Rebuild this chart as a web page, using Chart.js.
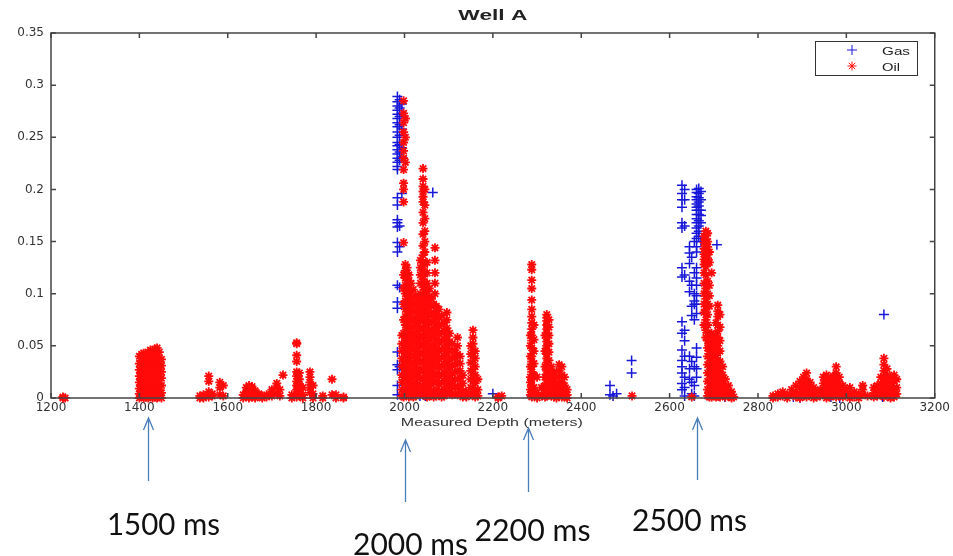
<!DOCTYPE html>
<html><head><meta charset="utf-8">
<script src="https://cdn.jsdelivr.net/npm/chart.js@4.4.1/dist/chart.umd.min.js"></script>
<style>html,body{margin:0;padding:0;background:#fff;overflow:hidden}#wrap{width:953px;height:556px}</style>
</head><body><div id="wrap"><canvas id="c" width="953" height="556"></canvas></div>
<script>
const chartTitle = 'Well A';
const xAxisTitle = 'Measured Depth (meters)';
const seriesNames = ['Gas', 'Oil'];
const xTicks = [1200, 1400, 1600, 1800, 2000, 2200, 2400, 2600, 2800, 3000, 3200];
const xTickLabels = ['1200', '1400', '1600', '1800', '2000', '2200', '2400', '2600', '2800', '3000', '3200'];
const yTicks = [0, 0.05, 0.1, 0.15, 0.2, 0.25, 0.3, 0.35];
const yTickLabels = ['0', '0.05', '0.1', '0.15', '0.2', '0.25', '0.3', '0.35'];
const annotationLabels = ['1500 ms', '2000 ms', '2200 ms', '2500 ms'];
const annotationDepths = [1419, 2001, 2279, 2661];

// Gas: [depth, [values at that depth]]
const gasColumns = [
  [1984,[0.289,0.284,0.28,0.276,0.272,0.268,0.264,0.26,0.255,0.25,0.245,0.242,0.238,0.234,0.23,0.226,0.222,0.219,0.192,0.185,0.171,0.168,0.164,0.149,0.14,0.108,0.092,0.086,0.044,0.032,0.027,0.012,0.003]],
  [1989,[0.286,0.278,0.27,0.262,0.252,0.243,0.236,0.228,0.165,0.145,0.106,0.03]],
  [1994,[0.282,0.273,0.258,0.24,0.231,0.196]],
  [2035,[0.002]],[2042,[0.003]],[2048,[0.002]],[2055,[0.004]],[2060,[0.003]],
  [2064,[0.197]],
  [2200,[0.004]],
  [2288,[0.002]],
  [2465,[0.012,0.003]],[2472,[0.002]],[2480,[0.004]],
  [2514,[0.036,0.024]],
  [2628,[0.204,0.196,0.19,0.183,0.168,0.163,0.125,0.116,0.073,0.062,0.046,0.036,0.03,0.024,0.014,0.008]],
  [2634,[0.2,0.19,0.165,0.118,0.065,0.055,0.04,0.02,0.01,0.002]],
  [2645,[0.145,0.139,0.129,0.112,0.102,0.04,0.028,0.018]],
  [2650,[0.135,0.108,0.088,0.079,0.035,0.015,0.004]],
  [2656,[0.15,0.12,0.1,0.093,0.09,0.075,0.03,0.012,0.002]],
  [2661,[0.2,0.197,0.193,0.19,0.186,0.183,0.18,0.176,0.172,0.168,0.163,0.158,0.153,0.145,0.14,0.125,0.115,0.108,0.098,0.09,0.081,0.048,0.039,0.028,0.02]],
  [2666,[0.201,0.196,0.192,0.188,0.184,0.18,0.176,0.17,0.165,0.16,0.155]],
  [2671,[0.198,0.19,0.18,0.175,0.168,0.15]],
  [2707,[0.147]],
  [2712,[0.002]],[2725,[0.001]],[2735,[0.002]],
  [2880,[0.001]],[2895,[0]],[2965,[0.001]],[2985,[0]],
  [3082,[0.001]],[3085,[0.08]],[3095,[0.002]]
];

// Oil: [depth, [values at that depth]]
const oilShallow = [
  [1227,[0,0.001]],[1232,[0]],
  [1400,[0,0.004,0.009,0.015,0.021,0.027,0.033,0.04]],
  [1405,[0.002,0.006,0.012,0.018,0.024,0.029,0.036,0.042]],
  [1410,[0,0.003,0.008,0.013,0.019,0.025,0.031,0.038,0.043]],
  [1415,[0.001,0.005,0.011,0.016,0.022,0.028,0.034,0.041]],
  [1420,[0,0.004,0.01,0.014,0.02,0.026,0.032,0.037,0.044]],
  [1425,[0.002,0.007,0.012,0.017,0.023,0.03,0.035,0.041,0.046]],
  [1430,[0,0.005,0.009,0.015,0.021,0.027,0.033,0.039,0.045]],
  [1435,[0.001,0.006,0.011,0.018,0.024,0.03,0.036,0.042,0.047]],
  [1440,[0,0.004,0.01,0.016,0.022,0.028,0.034,0.04,0.048]],
  [1445,[0.002,0.008,0.014,0.02,0.026,0.032,0.038,0.044]],
  [1450,[0,0.005,0.012,0.019,0.025,0.031,0.037]],
  [1537,[0,0.002]],[1545,[0,0.003]],
  [1557,[0.021,0.016,0.006,0.001]],[1565,[0.002,0.004]],
  [1582,[0.015,0.01,0.003]],[1590,[0.012,0.002]],
  [1635,[0,0.003]],[1642,[0.002,0.006,0.01]],[1648,[0,0.004,0.008,0.012]],
  [1655,[0.001,0.005,0.009,0.011]],[1662,[0,0.003,0.007]],[1670,[0.002,0.004]],
  [1678,[0,0.002]],[1688,[0.001,0.003]],
  [1700,[0.002,0.006,0.008]],[1711,[0.014,0.01,0.004]],[1718,[0.008,0.002]],[1725,[0.022]],
  [1745,[0,0.003]],
  [1756,[0.052,0.053,0.041,0.035,0.025,0.021,0.016,0.012,0.008,0.004,0.001]],
  [1762,[0.024,0.018,0.013,0.006,0.002]],[1770,[0.01,0.003,0]],
  [1786,[0.025,0.02,0.015,0.01,0.005]],[1793,[0.012,0.004,0]],
  [1815,[0.002,0]],[1836,[0.018,0.003]],[1845,[0.003,0]],[1862,[0.001,0]]
];
const oilMain = [
  [1994,[0.06,0.052,0.045,0.038,0.03,0.022,0.015,0.008,0.002]],
  [1998,[0.285,0.273,0.264,0.255,0.245,0.237,0.23,0.219,0.206,0.2,0.188,0.149,0.118,0.105,0.09,0.075,0.062,0.048,0.035,0.02,0.006,0.001]],
  [2002,[0.268,0.25,0.226,0.128,0.122,0.115,0.108,0.1,0.093,0.085,0.078,0.07,0.063,0.055,0.047,0.04,0.032,0.025,0.017,0.01,0.003]],
  [2006,[0.125,0.12,0.114,0.107,0.1,0.094,0.087,0.08,0.073,0.066,0.059,0.052,0.045,0.038,0.031,0.024,0.017,0.01,0.004]],
  [2010,[0.118,0.112,0.105,0.098,0.091,0.084,0.077,0.07,0.063,0.056,0.049,0.042,0.035,0.028,0.021,0.014,0.007,0.001]],
  [2015,[0.11,0.103,0.096,0.089,0.082,0.075,0.068,0.061,0.054,0.047,0.04,0.033,0.026,0.019,0.012,0.005]],
  [2020,[0.104,0.097,0.09,0.083,0.076,0.069,0.062,0.055,0.048,0.041,0.034,0.027,0.02,0.013,0.006,0.001]],
  [2025,[0.098,0.09,0.083,0.075,0.068,0.06,0.053,0.045,0.038,0.03,0.023,0.015,0.008,0.002]],
  [2030,[0.095,0.087,0.079,0.072,0.064,0.056,0.049,0.041,0.034,0.026,0.019,0.011,0.004]],
  [2036,[0.132,0.125,0.118,0.11,0.1,0.092,0.084,0.076,0.068,0.06,0.052,0.044,0.036,0.028,0.02,0.012,0.005]],
  [2042,[0.22,0.21,0.203,0.198,0.193,0.188,0.178,0.168,0.157,0.146,0.137,0.13,0.122,0.114,0.106,0.098,0.09,0.082,0.074,0.066,0.058,0.05,0.042,0.034,0.026,0.018,0.01,0.003]],
  [2046,[0.2,0.185,0.172,0.16,0.15,0.14,0.128,0.119,0.11,0.101,0.093,0.085,0.077,0.069,0.061,0.053,0.045,0.037,0.029,0.021,0.013,0.006]],
  [2051,[0.13,0.12,0.11,0.102,0.094,0.086,0.078,0.07,0.062,0.054,0.046,0.038,0.03,0.022,0.014,0.007,0.001]],
  [2056,[0.105,0.097,0.089,0.081,0.073,0.065,0.057,0.049,0.041,0.033,0.025,0.017,0.009,0.002]],
  [2061,[0.095,0.088,0.08,0.073,0.065,0.058,0.05,0.043,0.035,0.028,0.02,0.013,0.005]],
  [2066,[0.09,0.082,0.075,0.067,0.06,0.052,0.045,0.037,0.03,0.022,0.015,0.007,0.001]],
  [2069,[0.144,0.132,0.12,0.11,0.1]],
  [2072,[0.088,0.08,0.072,0.064,0.056,0.048,0.04,0.032,0.024,0.016,0.008,0.002]],
  [2078,[0.085,0.077,0.069,0.061,0.053,0.045,0.037,0.029,0.021,0.013,0.005]],
  [2084,[0.079,0.071,0.063,0.055,0.047,0.039,0.031,0.023,0.015,0.007,0.001]],
  [2090,[0.072,0.064,0.056,0.048,0.04,0.032,0.024,0.016,0.008,0.002]],
  [2096,[0.082,0.075,0.067,0.059,0.051,0.043,0.035,0.027,0.019,0.011,0.004]],
  [2102,[0.062,0.054,0.046,0.038,0.03,0.022,0.014,0.006]],
  [2108,[0.052,0.045,0.038,0.031,0.024,0.017,0.01,0.003]],
  [2114,[0.046,0.039,0.032,0.025,0.018,0.011,0.004]],
  [2120,[0.058,0.05,0.042,0.034,0.026,0.018,0.01,0.003]],
  [2126,[0.04,0.033,0.026,0.019,0.012,0.005]],
  [2132,[0.022,0.014,0.007,0.001]],
  [2140,[0.006,0.001]],
  [2150,[0.05,0.042,0.034,0.026,0.018,0.01,0.003]],
  [2155,[0.065,0.058,0.052,0.046,0.04,0.034,0.028,0.022,0.016,0.01,0.004]],
  [2160,[0.045,0.038,0.03,0.022,0.014,0.006,0.001]],
  [2166,[0.018,0.008,0.002]],
  [2212,[0.001,0]],[2220,[0.002]]
];
const oil2300 = [
  [2285,[0.06,0.05,0.04,0.03,0.02,0.015,0.008,0.003]],
  [2288,[0.128,0.123,0.113,0.105,0.094,0.085,0.078,0.072,0.066,0.06,0.055,0.048,0.04,0.035,0.03,0.025,0.018,0.012,0.006,0.001]],
  [2293,[0.07,0.056,0.045,0.033,0.022,0.01,0.004]],
  [2300,[0.02,0.005,0]],[2310,[0.01,0.002]],
  [2318,[0.06,0.045,0.03,0.02,0.012,0.005,0.001]],
  [2322,[0.08,0.077,0.074,0.07,0.066,0.062,0.058,0.054,0.05,0.046,0.042,0.038,0.034,0.03,0.026,0.022,0.018,0.014,0.01,0.006,0.002]],
  [2327,[0.075,0.068,0.06,0.052,0.044,0.036,0.028,0.02,0.012,0.004]],
  [2332,[0.03,0.022,0.015,0.008,0.002]],
  [2338,[0.025,0.018,0.012,0.006,0.001]],
  [2344,[0.02,0.014,0.009,0.004,0]],
  [2350,[0.032,0.026,0.02,0.013,0.007,0.002]],
  [2356,[0.03,0.022,0.015,0.01,0.005,0.001]],
  [2362,[0.02,0.012,0.006,0.001]],
  [2368,[0.008,0.003,0]],
  [2515,[0.002]]
];
const oil2700 = [
  [2650,[0.001]],
  [2678,[0.155,0.149,0.143,0.138,0.133,0.128,0.12,0.11,0.1,0.09,0.082,0.07]],
  [2682,[0.16,0.157,0.152,0.147,0.142,0.137,0.132,0.126,0.118,0.105,0.095,0.085,0.075,0.065,0.058]],
  [2686,[0.158,0.15,0.145,0.139,0.134,0.129,0.112,0.1,0.09,0.08,0.07,0.062,0.055,0.048,0.04,0.032,0.024,0.016,0.008,0.002]],
  [2690,[0.14,0.13,0.108,0.098,0.088,0.06,0.052,0.045,0.038,0.03,0.022,0.014,0.006,0.001]],
  [2695,[0.12,0.062,0.055,0.048,0.041,0.034,0.027,0.02,0.013,0.006,0.001]],
  [2700,[0.058,0.05,0.044,0.037,0.03,0.023,0.016,0.009,0.003]],
  [2705,[0.072,0.06,0.052,0.045,0.038,0.031,0.024,0.017,0.01,0.004,0.001]],
  [2709,[0.089,0.083,0.078,0.07,0.064,0.058,0.05,0.043,0.036,0.029,0.022,0.015,0.008,0.002]],
  [2714,[0.08,0.068,0.055,0.045,0.035,0.025,0.018,0.011,0.005,0.001]],
  [2720,[0.03,0.022,0.014,0.008,0.003]],
  [2726,[0.018,0.01,0.005,0.001]],
  [2733,[0.012,0.006,0.002]],
  [2740,[0.006,0.002,0]],
  [2745,[0.001]]
];
const oilDeep = [
  [2834,[0.002,0]],[2845,[0.004,0.001]],[2856,[0.006,0.002]],[2866,[0.003,0]],
  [2876,[0.008,0.003]],[2886,[0.012,0.006,0.001]],[2895,[0.016,0.01,0.004,0]],
  [2903,[0.02,0.013,0.007,0.002]],[2910,[0.024,0.018,0.012,0.006,0.001]],
  [2918,[0.015,0.009,0.003]],[2926,[0.01,0.004,0]],[2933,[0.005,0.001]],
  [2941,[0.008,0.002]],[2948,[0.02,0.014,0.008,0.003]],[2955,[0.022,0.016,0.01,0.004,0]],
  [2962,[0.018,0.012,0.006,0.001]],[2970,[0.021,0.015,0.009,0.003]],
  [2977,[0.03,0.024,0.017,0.011,0.005,0.001]],[2984,[0.02,0.014,0.008,0.002]],
  [2992,[0.012,0.006,0.001]],[3000,[0.008,0.003]],[3008,[0.01,0.004,0]],
  [3018,[0.006,0.001]],[3028,[0.004,0]],[3037,[0.012,0.008,0.003]],[3048,[0.002]],
  [3062,[0.01,0.005,0.001]],[3070,[0.012,0.007,0.002]],[3078,[0.02,0.014,0.008,0.003]],
  [3085,[0.038,0.032,0.026,0.02,0.015,0.01,0.005,0.001]],[3092,[0.028,0.022,0.016,0.01,0.004]],
  [3100,[0.02,0.014,0.009,0.004,0]],[3108,[0.022,0.016,0.01,0.005,0.001]],[3114,[0.018,0.01,0.004]]
];

const toPoints = cols => cols.flatMap(([x, ys]) => ys.map(y => ({x, y})));
const gasPoints = toPoints(gasColumns);
const oilPoints = toPoints([].concat(oilShallow, oilMain, oil2300, oil2700, oilDeep));

const GAS_COLOR = '#1818d8';
const OIL_COLOR = '#ff0a0a';

function drawStretched(ctx, text, x, y, font, targetW, align, color) {
  ctx.save();
  ctx.font = font; ctx.fillStyle = color; ctx.textBaseline = 'alphabetic'; ctx.textAlign = align;
  const w = ctx.measureText(text).width;
  ctx.translate(x, y); ctx.scale(targetW / w, 1);
  ctx.fillText(text, 0, 0);
  ctx.restore();
}

const decor = {
  id: 'decor',
  afterDraw(chart) {
    const {ctx, chartArea: a, scales: {x, y}} = chart;
    const H = Chart.helpers;
    ctx.save();
    // axes box
    ctx.strokeStyle = '#444'; ctx.lineWidth = 1.5;
    ctx.strokeRect(a.left, a.top, a.right - a.left, a.bottom - a.top);
    // inward ticks
    ctx.beginPath();
    xTicks.forEach(v => { const p = x.getPixelForValue(v);
      ctx.moveTo(p, a.bottom); ctx.lineTo(p, a.bottom - 5);
      ctx.moveTo(p, a.top); ctx.lineTo(p, a.top + 5); });
    yTicks.forEach(v => { const p = y.getPixelForValue(v);
      ctx.moveTo(a.left, p); ctx.lineTo(a.left + 5, p);
      ctx.moveTo(a.right, p); ctx.lineTo(a.right - 5, p); });
    ctx.stroke();
    // title and axis label
    const cx = (a.left + a.right) / 2;
    drawStretched(ctx, chartTitle, cx, 20, 'bold 14px "Liberation Sans"', 69, 'center', '#222');
    drawStretched(ctx, xAxisTitle, cx - 1, 426, '11px "Liberation Sans"', 182, 'center', '#333');
    // legend
    ctx.fillStyle = '#fff'; ctx.fillRect(815, 41, 102, 34);
    ctx.strokeStyle = '#333'; ctx.lineWidth = 1; ctx.strokeRect(815.5, 41.5, 102, 34);
    ctx.strokeStyle = GAS_COLOR; ctx.fillStyle = GAS_COLOR;
    H.drawPoint(ctx, {pointStyle: 'cross', radius: 5, borderWidth: 1.5, rotation: 0}, 852, 50);
    ctx.strokeStyle = OIL_COLOR; ctx.fillStyle = OIL_COLOR;
    H.drawPoint(ctx, {pointStyle: 'star', radius: 4.5, borderWidth: 1.8, rotation: 0}, 852, 66);
    drawStretched(ctx, seriesNames[0], 882, 55, '11px "Liberation Sans"', 28, 'left', '#222');
    drawStretched(ctx, seriesNames[1], 882, 71, '11px "Liberation Sans"', 18, 'left', '#222');
    // annotation arrows and labels
    const layout = [
      {y1: 418, y2: 481, dx: 15, by: 535, w: 113},
      {y1: 440, y2: 502, dx: 5, by: 555, w: 115},
      {y1: 428, y2: 492, dx: 4, by: 541, w: 116},
      {y1: 418, y2: 480, dx: -8, by: 531, w: 115}
    ];
    annotationDepths.forEach((d, i) => {
      const L = layout[i];
      const px = Math.round(x.getPixelForValue(d)) + 0.5;
      ctx.strokeStyle = '#4a7ebb'; ctx.lineWidth = 1.3;
      ctx.beginPath();
      ctx.moveTo(px, L.y2); ctx.lineTo(px, L.y1);
      ctx.moveTo(px - 5, L.y1 + 12); ctx.lineTo(px, L.y1); ctx.lineTo(px + 5, L.y1 + 12);
      ctx.stroke();
      drawStretched(ctx, annotationLabels[i], px + L.dx, L.by, '31px Lato', L.w, 'center', '#111');
    });
    ctx.restore();
  }
};

new Chart(document.getElementById('c'), {
  type: 'scatter',
  data: {
    datasets: [
      {label: seriesNames[0], data: gasPoints, order: 1, pointStyle: 'cross', pointRadius: 5,
       pointBorderWidth: 1.5, borderColor: GAS_COLOR, backgroundColor: GAS_COLOR, clip: false},
      {label: seriesNames[1], data: oilPoints, order: 0, pointStyle: 'star', pointRadius: 4.5,
       pointBorderWidth: 1.8, borderColor: OIL_COLOR, backgroundColor: OIL_COLOR, clip: false}
    ]
  },
  options: {
    responsive: false, animation: false, devicePixelRatio: 1,
    layout: {padding: {left: 0, right: 18, top: 33, bottom: 0}},
    plugins: {legend: {display: false}, tooltip: {enabled: false}, title: {display: false}},
    scales: {
      x: {
        type: 'linear', min: 1200, max: 3200,
        afterBuildTicks: s => { s.ticks = xTicks.map(v => ({value: v})); },
        afterFit: s => { s.height = 158; },
        grid: {display: false, drawTicks: false}, border: {display: false},
        ticks: {padding: 3, maxRotation: 0, autoSkip: false, color: '#333',
                font: {family: 'DejaVu Sans', size: 12},
                callback: v => xTickLabels[xTicks.indexOf(v)] ?? String(v)}
      },
      y: {
        type: 'linear', min: 0, max: 0.35,
        afterBuildTicks: s => { s.ticks = yTicks.map(v => ({value: v})); },
        afterFit: s => { s.width = 51; },
        grid: {display: false, drawTicks: false}, border: {display: false},
        ticks: {padding: 7, autoSkip: false, color: '#333',
                font: {family: 'DejaVu Sans', size: 12},
                callback: v => yTickLabels[yTicks.indexOf(v)] ?? String(v)}
      }
    }
  },
  plugins: [decor]
});
</script>
</body></html>
